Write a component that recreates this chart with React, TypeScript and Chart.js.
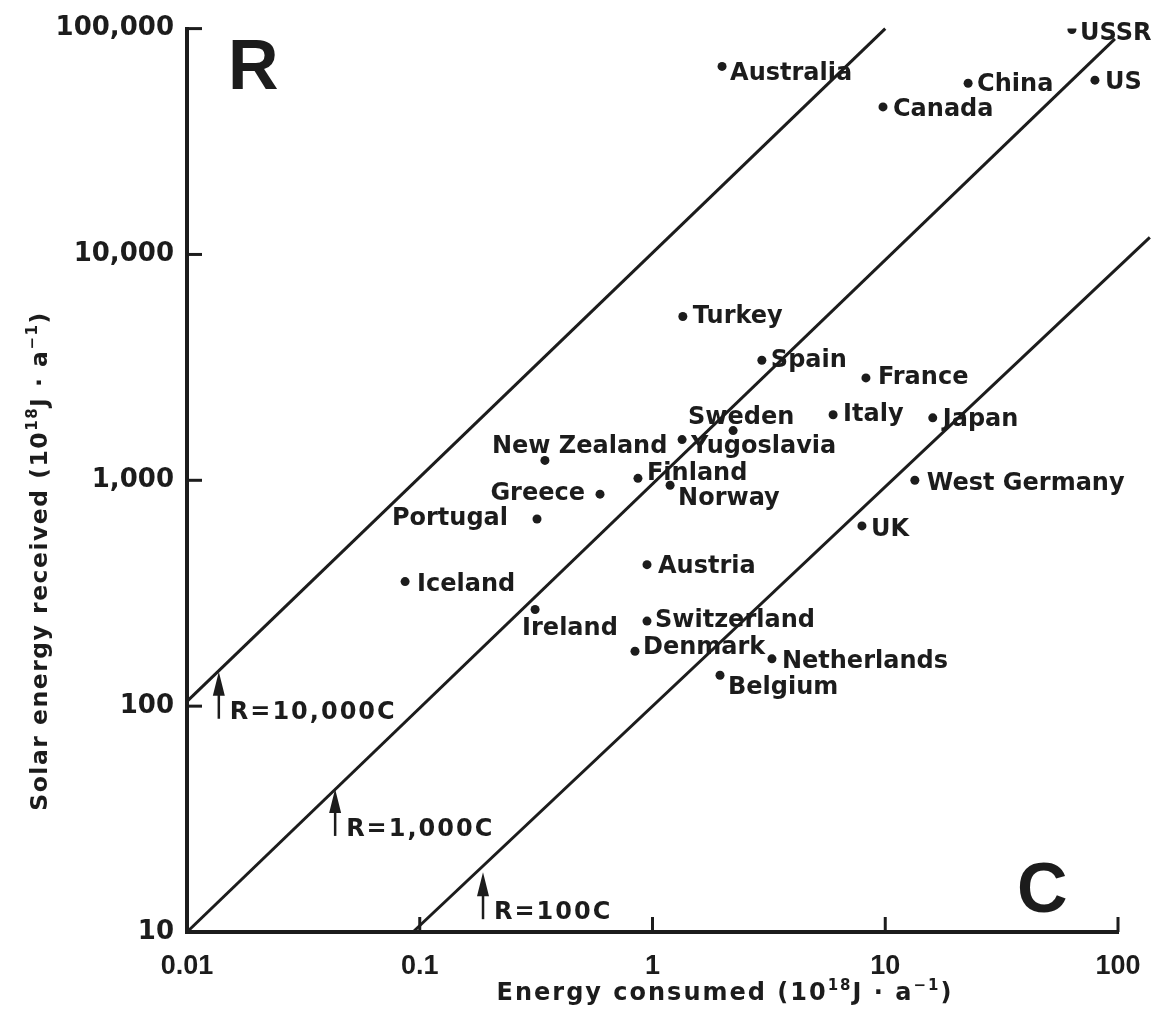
import React, { useEffect, useRef } from 'react';
import { Chart, registerables } from 'chart.js';

Chart.register(...registerables);

// ---------------- data ----------------
const countries = [
  'Australia', 'USSR', 'China', 'US', 'Canada', 'Turkey', 'Spain', 'France', 'Sweden', 'Italy',
  'Japan', 'New Zealand', 'Yugoslavia', 'Finland', 'Greece', 'Norway', 'West Germany', 'Portugal',
  'UK', 'Austria', 'Iceland', 'Ireland', 'Switzerland', 'Denmark', 'Netherlands', 'Belgium',
];
// Energy consumed, C (10^18 J/a)
const energyConsumed = [
  1.99, 63.4, 22.7, 79.6, 9.78, 1.35, 2.95, 8.26, 2.22, 5.97,
  16.0, 0.345, 1.34, 0.866, 0.595, 1.19, 13.4, 0.319,
  7.94, 0.947, 0.0865, 0.313, 0.947, 0.841, 3.26, 1.95,
];
// Solar energy received, R (10^18 J/a)
const solarReceived = [
  68000, 99000, 57300, 59100, 45000, 5310, 3400, 2840, 1660, 1950,
  1890, 1225, 1514, 1020, 868, 951, 1000, 674,
  628, 423, 356, 268, 238, 175, 162, 137,
];

// reference lines R = k*C (end points as drawn)
const refLineNames = ['R=10,000C', 'R=1,000C', 'R=100C'];
const refLineStartC = [0.01, 0.01, 0.0935];
const refLineStartR = [105, 10, 10];
const refLineEndC = [10, 97, 137];
const refLineEndR = [100000, 90000, 11900];

// arrows pointing at the reference lines
const arrowC = [0.0137, 0.0433, 0.187];
const arrowR = [142, 43, 18.4];
const arrowLabels = ['R=10,000C', 'R=1,000C', 'R=100C'];

const xTickValues = [0.01, 0.1, 1, 10, 100];
const xTickLabels = ['0.01', '0.1', '1', '10', '100'];
const yTickValues = [10, 100, 1000, 10000, 100000];
const yTickLabels = ['10', '100', '1,000', '10,000', '100,000'];

// ---------------- styles ----------------
const INK = '#1c1c1c';
const LABEL_FONT = 'bold 24px "DejaVu Sans"';
// label placement: [dx, dy(baseline), align]
const labelPlacement: Record<string, [number, number, CanvasTextAlign]> = {
  Australia: [8, 14, 'left'],
  USSR: [8, 10, 'left'],
  China: [9, 8, 'left'],
  US: [10, 9, 'left'],
  Canada: [10, 9, 'left'],
  Turkey: [10, 6, 'left'],
  Spain: [9, 7, 'left'],
  France: [12, 6, 'left'],
  Sweden: [8, -7, 'center'],
  Italy: [10, 6, 'left'],
  Japan: [10, 8, 'left'],
  'New Zealand': [-53, -7, 'left'],
  Yugoslavia: [9, 13, 'left'],
  Finland: [9, 2, 'left'],
  Greece: [-15, 6, 'right'],
  Norway: [8, 20, 'left'],
  'West Germany': [12, 10, 'left'],
  Portugal: [-29, 6, 'right'],
  UK: [9, 10, 'left'],
  Austria: [11, 8, 'left'],
  Iceland: [12, 9, 'left'],
  Ireland: [-13, 26, 'left'],
  Switzerland: [8, 6, 'left'],
  Denmark: [8, 3, 'left'],
  Netherlands: [10, 9, 'left'],
  Belgium: [8, 19, 'left'],
};

type Part = { t: string; sup?: boolean };

function drawRich(ctx: CanvasRenderingContext2D, parts: Part[], x: number, y: number, size: number, spacing: number) {
  const supSize = Math.round(size * 0.62);
  (ctx as any).letterSpacing = spacing + 'px';
  const widths = parts.map((p) => {
    ctx.font = `bold ${p.sup ? supSize : size}px "DejaVu Sans"`;
    return ctx.measureText(p.t).width;
  });
  const total = widths.reduce((a, b) => a + b, 0);
  let cx = x - total / 2;
  ctx.textAlign = 'left';
  ctx.textBaseline = 'alphabetic';
  parts.forEach((p, i) => {
    ctx.font = `bold ${p.sup ? supSize : size}px "DejaVu Sans"`;
    ctx.fillText(p.t, cx, p.sup ? y - size * 0.42 : y);
    cx += widths[i];
  });
  (ctx as any).letterSpacing = '0px';
}

const titleTail: Part[] = [{ t: '18', sup: true }, { t: 'J · a' }, { t: '−1', sup: true }, { t: ')' }];

const annotationPlugin = {
  id: 'annotations',
  beforeDraw(chart: any) {
    const ctx = chart.ctx;
    ctx.save();
    ctx.fillStyle = '#ffffff';
    ctx.fillRect(0, 0, chart.width, chart.height);
    ctx.restore();
  },
  afterDraw(chart: any) {
    const ctx: CanvasRenderingContext2D = chart.ctx;
    const xs = chart.scales.x;
    const ys = chart.scales.y;
    const area = chart.chartArea;
    ctx.save();
    ctx.strokeStyle = INK;
    ctx.fillStyle = INK;

    // inward tick marks
    ctx.lineWidth = 3;
    ctx.lineCap = 'butt';
    const TICK = 15;
    xTickValues.forEach((v) => {
      if (v === xTickValues[0]) return;
      const px = xs.getPixelForValue(v);
      ctx.beginPath();
      ctx.moveTo(px, area.bottom);
      ctx.lineTo(px, area.bottom - TICK);
      ctx.stroke();
    });
    yTickValues.forEach((v) => {
      if (v === yTickValues[0]) return;
      const py = ys.getPixelForValue(v);
      ctx.beginPath();
      ctx.moveTo(area.left, py);
      ctx.lineTo(area.left + TICK, py);
      ctx.stroke();
    });

    // country labels
    const meta = chart.getDatasetMeta(0);
    ctx.font = LABEL_FONT;
    ctx.textBaseline = 'alphabetic';
    countries.forEach((name, i) => {
      const pt = meta.data[i];
      const [dx, dy, align] = labelPlacement[name] || [9, 9, 'left'];
      ctx.textAlign = align;
      ctx.fillText(name, pt.x + dx, pt.y + dy);
    });

    // arrows
    const ARROW_LEN = 47;
    const HEAD_LEN = 24;
    const HEAD_HALF = 6;
    arrowC.forEach((c, i) => {
      const x = xs.getPixelForValue(c);
      const y = ys.getPixelForValue(arrowR[i]);
      ctx.lineWidth = 2.5;
      ctx.beginPath();
      ctx.moveTo(x, y + HEAD_LEN - 2);
      ctx.lineTo(x, y + ARROW_LEN);
      ctx.stroke();
      ctx.beginPath();
      ctx.moveTo(x, y);
      ctx.lineTo(x - HEAD_HALF, y + HEAD_LEN);
      ctx.lineTo(x + HEAD_HALF, y + HEAD_LEN);
      ctx.closePath();
      ctx.fill();
      ctx.font = 'bold 24px "DejaVu Sans"';
      (ctx as any).letterSpacing = '2px';
      ctx.textAlign = 'left';
      ctx.fillText(arrowLabels[i], x + 11, y + ARROW_LEN);
      (ctx as any).letterSpacing = '0px';
    });

    // big axis letters
    ctx.font = 'bold 70px "Liberation Sans"';
    ctx.textAlign = 'left';
    ctx.fillText('R', area.left + 41, area.top + 60);
    ctx.fillText('C', area.right - 101, area.bottom - 20);

    // axis titles
    drawRich(ctx, [{ t: 'Energy consumed (10' }, ...titleTail], 725, 1000, 24, 2);
    ctx.save();
    ctx.translate(47, 561);
    ctx.rotate(-Math.PI / 2);
    drawRich(ctx, [{ t: 'Solar energy received (10' }, ...titleTail], 0, 0, 23.5, 1.5);
    ctx.restore();

    ctx.restore();
  },
};

export default function App() {
  const canvasRef = useRef<HTMLCanvasElement | null>(null);

  useEffect(() => {
    const canvas = canvasRef.current;
    if (!canvas) return;

    const points = countries.map((_, i) => ({ x: energyConsumed[i], y: solarReceived[i] }));
    const lineSets = refLineNames.map((name, i) => ({
      type: 'line' as const,
      label: name,
      data: [
        { x: refLineStartC[i], y: refLineStartR[i] },
        { x: refLineEndC[i], y: refLineEndR[i] },
      ],
      borderColor: INK,
      borderWidth: 3,
      pointRadius: 0,
      fill: false,
      clip: false as any,
      tension: 0,
    }));

    const chart = new Chart(canvas, {
      type: 'scatter',
      data: {
        datasets: [
          {
            label: 'Countries',
            data: points,
            pointRadius: 4.5,
            pointHoverRadius: 4.5,
            pointBackgroundColor: INK,
            pointBorderWidth: 0,
            showLine: false,
          } as any,
          ...lineSets,
        ],
      },
      options: {
        responsive: false,
        animation: false,
        devicePixelRatio: 1,
        events: [],
        layout: { padding: { left: 0, top: 22, right: 44, bottom: 0 } },
        plugins: { legend: { display: false }, tooltip: { enabled: false }, title: { display: false } },
        scales: {
          x: {
            type: 'logarithmic',
            position: 'bottom',
            min: 0.01,
            max: 100,
            afterBuildTicks: (s: any) => {
              s.ticks = xTickValues.map((v) => ({ value: v }));
            },
            afterFit: (s: any) => {
              s.height = 92;
            },
            ticks: {
              autoSkip: false,
              maxRotation: 0,
              padding: 18,
              color: INK,
              font: { family: '"Liberation Sans"', weight: 'bold', size: 27 },
              callback: (_v: any, i: number) => xTickLabels[i],
            },
            grid: { display: false, drawTicks: false },
            border: { display: true, color: INK, width: 4 },
          },
          y: {
            type: 'logarithmic',
            position: 'left',
            min: 10,
            max: 100000,
            afterBuildTicks: (s: any) => {
              s.ticks = yTickValues.map((v) => ({ value: v }));
            },
            afterFit: (s: any) => {
              s.width = 187;
            },
            ticks: {
              autoSkip: false,
              padding: 13,
              color: INK,
              font: { family: '"DejaVu Sans"', weight: 'bold', size: 26 },
              callback: (_v: any, i: number) => yTickLabels[i],
            },
            grid: { display: false, drawTicks: false },
            border: { display: true, color: INK, width: 4 },
          },
        },
      } as any,
      plugins: [annotationPlugin],
    });

    return () => chart.destroy();
  }, []);

  return (
    <div style={{ position: 'absolute', left: 0, top: 0, width: 1162, height: 1024 }}>
      <canvas ref={canvasRef} width={1162} height={1024} style={{ display: 'block', width: 1162, height: 1024 }} />
    </div>
  );
}
